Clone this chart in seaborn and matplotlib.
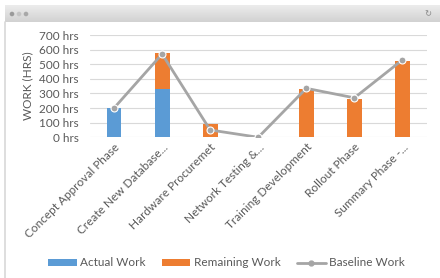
import matplotlib
matplotlib.use("Agg")
import matplotlib.pyplot as plt
import seaborn as sns
import numpy as np
import pandas as pd
from matplotlib.patches import Ellipse, Patch
from matplotlib.lines import Line2D

categories = ["Concept Approval Phase", "Create New Database...", "Hardware Procuremet",
              "Network Testing &...", "Training Development", "Rollout Phase", "Summary Phase -..."]
actual_work = [200, 330, 0, 0, 0, 0, 0]
remaining_work = [0, 245, 90, 0, 330, 265, 525]
baseline_work = [200, 570, 50, 0, 335, 270, 530]
y_ticks = [0, 100, 200, 300, 400, 500, 600, 700]

BLUE = "#5B9BD5"
ORANGE = "#ED7D31"
GRAY = "#A5A5A5"
TXT = "#595959"

sns.set_theme(style="white")
plt.rcParams['font.family'] = ['Lato', 'DejaVu Sans']

df = pd.DataFrame({"cat": categories, "actual": actual_work,
                   "remaining": remaining_work, "baseline": baseline_work})
df["total"] = df["actual"] + df["remaining"]

fig = plt.figure(figsize=(4.4, 2.78), dpi=100, facecolor="white")
W, H = 440, 278

def fx(x):
    return x / W

def fy(y):
    return 1 - y / H

# window chrome
grad = np.linspace(0, 1, 20).reshape(-1, 1)
ax_bar = fig.add_axes([fx(5), fy(22), fx(435), 17 / H])
ax_bar.imshow(grad, aspect="auto", cmap=matplotlib.colors.LinearSegmentedColormap.from_list(
    "g", ["#ececec", "#d2d2d2"]), extent=[0, 1, 0, 1])
ax_bar.set_axis_off()
for i, c in enumerate(["#9a9a9a", "#c4c4c4", "#a8a8a8"]):
    fig.patches.append(Ellipse((fx(12 + 7 * i), fy(14)), 4.6 / W, 4.6 / H,
                               transform=fig.transFigure, facecolor=c,
                               edgecolor="none", zorder=5))
fig.text(fx(428), fy(14), "↻", fontsize=6, color="#888888", ha="center", va="center",
         family=["DejaVu Sans"])
fig.lines.append(Line2D([fx(5), fx(5)], [fy(22), fy(278)], transform=fig.transFigure,
                        color="#d8d8d8", linewidth=1.2))

ax = fig.add_axes([fx(90), fy(137.3), fx(336.5), (137.3 - 35) / H])

sns.barplot(data=df, x="cat", y="total", color=ORANGE, width=0.31, ax=ax,
            saturation=1, zorder=2, edgecolor="none", linewidth=0)
sns.barplot(data=df, x="cat", y="actual", color=BLUE, width=0.31, ax=ax,
            saturation=1, zorder=3, edgecolor="none", linewidth=0)
sns.pointplot(data=df, x="cat", y="baseline", color=GRAY, ax=ax, markers="o",
              linewidth=2, markersize=5, markeredgecolor="white", markeredgewidth=0.8)
for l in ax.lines:
    l.set_zorder(4)

ax.set_ylim(0, 700)
ax.set_xlim(-0.5, len(categories) - 0.5)
ax.set_yticks(y_ticks)
ax.set_yticklabels([f"{v} hrs" for v in y_ticks])
ax.yaxis.grid(True, color="#D9D9D9", linewidth=0.8, zorder=0)
ax.set_axisbelow(True)
for s in ax.spines.values():
    s.set_visible(False)
ax.tick_params(axis="both", length=0, colors=TXT, labelsize=8.5)
ax.tick_params(axis="y", pad=8)
ax.tick_params(axis="x", pad=3)
ax.set_xticks(range(len(categories)))
ax.set_xticklabels(categories, rotation=45, ha="right", rotation_mode="anchor")
ax.set_xlabel("")
ax.set_ylabel("WORK (HRS)", fontsize=8.5, color=TXT, labelpad=4)

handles = [Patch(facecolor=BLUE, edgecolor="none"),
           Patch(facecolor=ORANGE, edgecolor="none"),
           Line2D([], [], color=GRAY, linewidth=2, marker="o", markersize=3.5,
                  markeredgecolor=GRAY)]
leg = fig.legend(handles, ["Actual Work", "Remaining Work", "Baseline Work"],
                 loc="center", bbox_to_anchor=(0.515, fy(263)), ncol=3, frameon=False,
                 fontsize=8.5, handlelength=2.4, handleheight=0.6, columnspacing=1.4,
                 handletextpad=0.3, labelcolor=TXT)

fig.savefig("out.png", dpi=100)
